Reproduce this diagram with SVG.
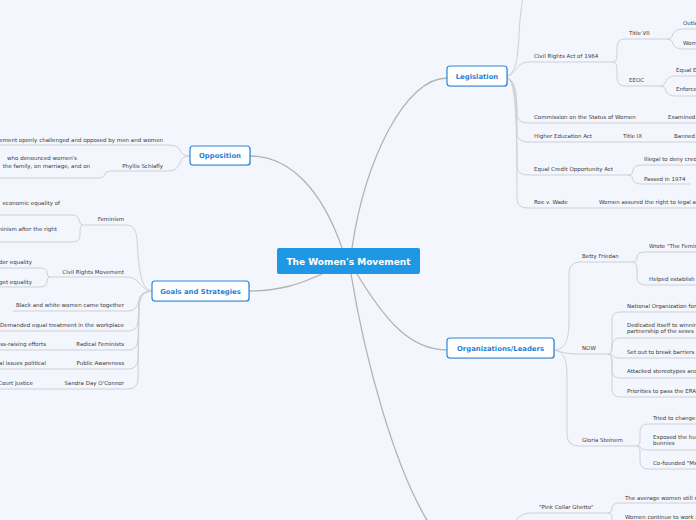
<svg xmlns="http://www.w3.org/2000/svg" width="696" height="520" viewBox="0 0 696 520">
<style>
.bg{fill:#f3f6fd}
.main{stroke:#b3b3b3;stroke-width:1.3;fill:none}
.sub{stroke:#cfd0d8;stroke-width:1;fill:none}
.t{font-family:"DejaVu Sans",Verdana,sans-serif;font-size:5.5px;fill:#3a3a3a}
.e{text-anchor:end}
.box{fill:#ffffff;stroke:#2b87dd;stroke-width:1.2}
.sh{fill:#9fb4cf;opacity:0.6}
.bt{font-family:"DejaVu Sans",Verdana,sans-serif;font-size:6.85px;font-weight:bold;fill:#1f7fd8;text-anchor:middle}
.ct{font-family:"DejaVu Sans",Verdana,sans-serif;font-size:9px;font-weight:bold;fill:#ffffff;text-anchor:middle}
</style>
<rect class="bg" x="0" y="0" width="696" height="520"/>
<g id="connectors">
<path class="main" d="M352,248 C365,160 405,78 447,78"/>
<path class="main" d="M342,248 C322,190 290,156 250,156"/>
<path class="main" d="M322,274 C300,284 280,291 249,291"/>
<path class="main" d="M357,274 C385,320 410,350 447,350"/>
<path class="main" d="M351,274 C365,360 395,470 430,525"/>
<!-- Legislation -->
<path class="sub" d="M507,76 C516,74 518,55 519,35 S522,5 523,-5"/>
<path class="sub" d="M507,76 C515,76 516,62 528,62 L613,62"/>
<path class="sub" d="M507,78 C516,80 517,95 517,115 Q518,123 528,123 L696,123"/>
<path class="sub" d="M507,78 C516,80 517,100 517,134 Q518,142 528,142 L696,142"/>
<path class="sub" d="M507,78 C516,80 517,110 517,167 Q518,175 528,175 L628,175"/>
<path class="sub" d="M507,78 C516,80 517,120 517,200 Q518,208 528,208 L696,208"/>
<path class="sub" d="M613,62 Q617,62 617,54 L617,47 Q617,39 625,39 L667,39"/>
<path class="sub" d="M613,62 Q617,62 617,70 L617,78 Q617,86 625,86 L660,86"/>
<path class="sub" d="M667,39 Q672,39 673,34 Q675,29 683,29 L696,29"/>
<path class="sub" d="M667,39 Q672,39 673,44 Q675,49 683,49 L696,49"/>
<path class="sub" d="M660,86 Q665,86 666,81 Q668,76 676,76 L696,76"/>
<path class="sub" d="M660,86 Q665,86 666,91 Q668,96 676,96 L696,96"/>
<path class="sub" d="M628,175 Q633,175 633,170 Q634,165 642,165 L696,165"/>
<path class="sub" d="M628,175 Q633,175 633,180 Q634,184 642,184 L690,184"/>
<!-- Organizations -->
<path class="sub" d="M554,350 C565,350 569,340 569,320 L569,274 Q569,262 580,262 L633,262"/>
<path class="sub" d="M554,350 C562,352 566,354 578,354 L608,354"/>
<path class="sub" d="M554,350 C565,352 567,360 567,380 L567,434 Q567,446 579,446 L637,446"/>
<path class="sub" d="M633,262 Q637,262 637,257 Q637,252 646,252 L696,252"/>
<path class="sub" d="M633,262 Q637,262 637,270 L637,277 Q637,285 646,285 L696,285"/>
<path class="sub" d="M608,354 Q612,354 612,346 L612,320 Q612,312 620,312 L696,312"/>
<path class="sub" d="M608,354 Q612,354 612,347 Q612,338 620,338 L696,338"/>
<path class="sub" d="M608,354 Q612,354 613,356 Q614,358 620,358 L696,358"/>
<path class="sub" d="M608,354 Q612,354 612,362 L612,370 Q612,378 620,378 L696,378"/>
<path class="sub" d="M608,354 Q612,354 612,362 L612,389 Q612,397 620,397 L696,397"/>
<path class="sub" d="M637,446 Q640,446 640,440 L640,432 Q640,424 648,424 L696,424"/>
<path class="sub" d="M637,446 Q640,446 641,448 Q642,450 648,450 L696,450"/>
<path class="sub" d="M637,446 Q640,446 640,452 L640,461 Q640,469 648,469 L696,469"/>
<!-- Pink collar -->
<path class="sub" d="M512,530 Q516,513 530,513 L608,513"/>
<path class="sub" d="M608,513 Q612,513 612,508 Q612,503 620,503 L696,503"/>
<path class="sub" d="M608,513 Q612,513 612,518 L612,525"/>
<!-- Opposition -->
<path class="sub" d="M190,156 Q182,156 180,150 Q177,145 168,145 L0,145"/>
<path class="sub" d="M190,156 Q182,156 180,163 Q177,171 168,171 L110,171 Q106,171 105,174 Q104,178 98,178 L0,178"/>
<!-- Goals -->
<path class="sub" d="M152,291 C142,289 140,275 138,255 L137,238 Q135,225 127,225 L83,225"/>
<path class="sub" d="M83,225 Q80,225 79,220 Q78,215 72,215 L0,215"/>
<path class="sub" d="M83,225 Q80,225 80,232 L80,236 Q80,242 72,242 L0,242"/>
<path class="sub" d="M152,291 C145,290 142,286 139,283 Q135,277 126,277 L50,277"/>
<path class="sub" d="M50,277 Q47,277 47,273 Q47,268 40,268 L0,268"/>
<path class="sub" d="M50,277 Q47,277 47,281 Q47,287 40,287 L0,287"/>
<path class="sub" d="M152,291 Q140,291 139,300 Q137,311 128,311 L13,311"/>
<path class="sub" d="M152,291 Q140,291 139,305 L138,322 Q137,331 128,331 L0,331"/>
<path class="sub" d="M152,291 Q140,291 139,305 L138,341 Q137,350 128,350 L0,350"/>
<path class="sub" d="M152,291 Q140,291 139,305 L138,360 Q137,369 128,369 L0,369"/>
<path class="sub" d="M152,291 Q140,291 139,305 L138,380 Q137,389 128,389 L0,389"/>
</g>
<g id="central">
<rect x="277" y="248" width="143" height="26" rx="2" fill="#1e97e4"/>
<text class="ct" x="348.5" y="264.5">The Women's Movement</text>
</g>
<g id="legislation">
<rect class="sh" x="448" y="67" width="60" height="20" rx="3"/>
<rect class="box" x="447" y="66" width="60" height="20" rx="3"/>
<text class="bt" x="477" y="78.5">Legislation</text>
</g>
<g id="opposition">
<rect class="sh" x="191" y="147" width="60" height="19" rx="3"/>
<rect class="box" x="190" y="146" width="60" height="19" rx="3"/>
<text class="bt" x="220" y="158">Opposition</text>
</g>
<g id="goals">
<rect class="sh" x="153" y="282" width="97" height="20" rx="3"/>
<rect class="box" x="152" y="281" width="97" height="20" rx="3"/>
<text class="bt" x="200.5" y="293.5">Goals and Strategies</text>
</g>
<g id="organizations">
<rect class="sh" x="448" y="339" width="107" height="20" rx="3"/>
<rect class="box" x="447" y="338" width="107" height="20" rx="3"/>
<text class="bt" x="500.5" y="350.5">Organizations/Leaders</text>
</g>
<g id="legislation-topics">
<text class="t" x="534" y="58">Civil Rights Act of 1964</text>
<text class="t" x="629" y="35">Title VII</text>
<text class="t" x="683" y="25">Outlawed</text>
<text class="t" x="683" y="45">Women</text>
<text class="t" x="629" y="82">EEOC</text>
<text class="t" x="676" y="72">Equal Employment</text>
<text class="t" x="676" y="91">Enforced</text>
<text class="t" x="534" y="119">Commission on the Status of Women</text>
<text class="t" x="668" y="119">Examined</text>
<text class="t" x="534" y="138">Higher Education Act</text>
<text class="t" x="623" y="138">Title IX</text>
<text class="t" x="674" y="138">Banned</text>
<text class="t" x="534" y="171">Equal Credit Opportunity Act</text>
<text class="t" x="644" y="161">Illegal to deny credit</text>
<text class="t" x="644" y="181">Passed in 1974</text>
<text class="t" x="534" y="204">Roe v. Wade</text>
<text class="t" x="599" y="204">Women assured the right to legal abortion</text>
</g>
<g id="organizations-topics">
<text class="t" x="582" y="258">Betty Friedan</text>
<text class="t" x="649" y="248">Wrote "The Feminine Mystique"</text>
<text class="t" x="649" y="281">Helped establish NOW</text>
<text class="t" x="582" y="350">NOW</text>
<text class="t" x="627" y="308">National Organization for Women</text>
<text class="t" x="627" y="327">Dedicated itself to winning equality</text>
<text class="t" x="627" y="333">partnership of the sexes</text>
<text class="t" x="627" y="354">Set out to break barriers</text>
<text class="t" x="627" y="373">Attacked stereotypes and</text>
<text class="t" x="627" y="393">Priorities to pass the ERA</text>
<text class="t" x="582" y="442">Gloria Steinem</text>
<text class="t" x="653" y="420">Tried to change</text>
<text class="t" x="653" y="439">Exposed the humiliating</text>
<text class="t" x="653" y="445">bunnies</text>
<text class="t" x="653" y="465">Co-founded "Ms." magazine</text>
</g>
<g id="pink-collar">
<text class="t" x="539" y="509">"Pink Collar Ghetto"</text>
<text class="t" x="625" y="500">The average women still made</text>
<text class="t" x="625" y="519">Women continue to work in</text>
</g>
<g id="opposition-topics">
<text class="t e" x="163" y="142">movement openly challenged and opposed by men and women</text>
<text class="t e" x="163" y="168">Phyllis Schlafly</text>
<text class="t e" x="77" y="160">who denounced women's</text>
<text class="t e" x="90" y="168">the family, on marriage, and on</text>
</g>
<g id="goals-topics">
<text class="t e" x="124" y="221">Feminism</text>
<text class="t e" x="60" y="205">economic equality of</text>
<text class="t e" x="57" y="231">feminism after the right</text>
<text class="t e" x="124" y="274">Civil Rights Movement</text>
<text class="t e" x="32" y="264">gender equality</text>
<text class="t e" x="32" y="284">to get equality</text>
<text class="t e" x="124" y="307">Black and white women came together</text>
<text class="t e" x="124" y="327">Demanded equal treatment in the workplace</text>
<text class="t e" x="124" y="346">Radical Feminists</text>
<text class="t e" x="46" y="346">consciousness-raising efforts</text>
<text class="t e" x="124" y="365">Public Awareness</text>
<text class="t e" x="46" y="365">personal issues political</text>
<text class="t e" x="124" y="385">Sandra Day O'Connor</text>
<text class="t e" x="33" y="385">Supreme Court Justice</text>
</g>
</svg>
